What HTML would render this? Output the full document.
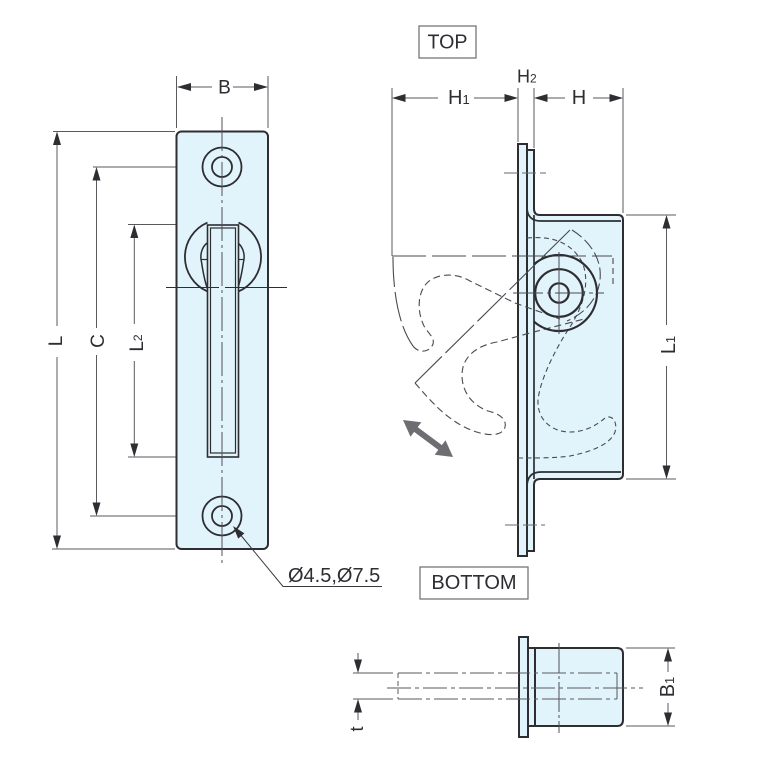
<!DOCTYPE html>
<html><head><meta charset="utf-8"><style>
html,body{margin:0;padding:0;background:#fff;}
svg{display:block;}
text{font-family:"Liberation Sans",Arial,sans-serif;fill:#2d2d32;}
</style></head><body>
<svg width="780" height="771" viewBox="0 0 780 771" xmlns="http://www.w3.org/2000/svg">
<defs>
<clipPath id="bc"><rect x="534.5" y="200" width="90" height="290"/></clipPath>
</defs>

<!-- ===================== LEFT VIEW ===================== -->
<!-- B dimension -->
<g stroke="#5a5a5e" stroke-width="1" fill="none">
<line x1="176.5" y1="76" x2="176.5" y2="128"/>
<line x1="268" y1="76" x2="268" y2="128"/>
<line x1="178" y1="87" x2="212" y2="87"/>
<line x1="233" y1="87" x2="267" y2="87"/>
<!-- L -->
<line x1="53" y1="131.5" x2="175" y2="131.5"/>
<line x1="52" y1="549" x2="175" y2="549"/>
<line x1="57" y1="133" x2="57" y2="326"/>
<line x1="57" y1="357" x2="57" y2="547"/>
<!-- C -->
<line x1="93" y1="167" x2="246" y2="167"/>
<line x1="90" y1="516" x2="245" y2="516"/>
<line x1="96.5" y1="169" x2="96.5" y2="328"/>
<line x1="96.5" y1="355" x2="96.5" y2="514"/>
<!-- L2 -->
<line x1="128" y1="224.5" x2="207" y2="224.5"/>
<line x1="128" y1="457" x2="206" y2="457"/>
<line x1="134.3" y1="227" x2="134.3" y2="324"/>
<line x1="134.3" y1="361" x2="134.3" y2="455"/>
</g>
<g fill="#2d2d32">
<polygon points="177,87 191,83 191,91"/>
<polygon points="268,87 254,83 254,91"/>
<polygon points="57,131.5 53,145 61,145"/>
<polygon points="57,549 53,535.5 61,535.5"/>
<polygon points="96.5,167 92.5,180.5 100.5,180.5"/>
<polygon points="96.5,516 92.5,502.5 100.5,502.5"/>
<polygon points="134.3,224.5 130.3,238 138.3,238"/>
<polygon points="134.3,457 130.3,443.5 138.3,443.5"/>
</g>
<text x="224.5" y="93.5" font-size="19" text-anchor="middle">B</text>
<text transform="translate(55,341) rotate(-90)" font-size="19" text-anchor="middle" dy="7">L</text>
<text transform="translate(97,341) rotate(-90)" font-size="19" text-anchor="middle" dy="7">C</text>
<text transform="translate(136,343) rotate(-90)" font-size="19" text-anchor="middle" dy="7">L<tspan font-size="12" dy="-1">2</tspan></text>

<!-- plate -->
<rect x="176.5" y="131.5" width="91.5" height="417.5" rx="5" fill="#e1f4fb" stroke="#2d2d32" stroke-width="2"/>
<!-- holes -->
<g fill="none" stroke="#2d2d32" stroke-width="1.8">
<circle cx="222" cy="167" r="19.5"/>
<circle cx="222" cy="167" r="10"/>
<circle cx="222" cy="516" r="19.5"/>
<circle cx="222" cy="516" r="10"/>
</g>
<!-- handle circle arcs -->
<g fill="none" stroke="#2d2d32" stroke-width="1.8">
<path d="M207.5,222.6 A37.5,37.5 0 0 0 207.5,291.4"/>
<path d="M238.5,222.6 A37.5,37.5 0 0 1 238.5,291.4"/>
<path d="M207,243 C201,248 200,256 201.5,262 C203,272 205,282 207.5,289" stroke-width="1.5"/>
<path d="M238,243 C244,248 245,256 243.5,262 C242,272 240,282 237.5,289" stroke-width="1.5"/>
<line x1="201" y1="259.5" x2="207" y2="259.5" stroke-width="1.2"/>
<line x1="238" y1="259.5" x2="244" y2="259.5" stroke-width="1.2"/>
</g>
<!-- slot -->
<rect x="207.5" y="225" width="31" height="232" fill="#e1f4fb" stroke="#2d2d32" stroke-width="1.6"/>
<rect x="210.5" y="228" width="25" height="225" fill="none" stroke="#2d2d32" stroke-width="1.2"/>
<!-- centre lines -->
<line x1="222" y1="117" x2="222" y2="566" stroke="#505055" stroke-width="1" stroke-dasharray="34 4 3 4"/>
<line x1="166" y1="287.5" x2="219" y2="287.5" stroke="#2d2d32" stroke-width="1"/>
<line x1="225" y1="287.5" x2="287" y2="287.5" stroke="#2d2d32" stroke-width="1"/>
<!-- leader -->
<polyline points="239,533 283,586.5 382,586.5" fill="none" stroke="#3a3a3e" stroke-width="1"/>
<polygon points="233,526 244.4,533.4 238.2,538.6" fill="#2d2d32"/>
<text x="288" y="582" font-size="20">Ø4.5,Ø7.5</text>

<!-- ===================== RIGHT (SIDE) VIEW ===================== -->
<rect x="419" y="26" width="57" height="32" fill="none" stroke="#77777b" stroke-width="1.3"/>
<text x="447.5" y="48.5" font-size="20" text-anchor="middle" textLength="40" lengthAdjust="spacingAndGlyphs">TOP</text>
<rect x="420" y="567" width="108" height="32" fill="none" stroke="#77777b" stroke-width="1.3"/>
<text x="474" y="589" font-size="20" text-anchor="middle">BOTTOM</text>

<!-- dims -->
<g stroke="#5a5a5e" stroke-width="1" fill="none">
<line x1="392" y1="88" x2="392" y2="256"/>
<line x1="518" y1="88" x2="518" y2="142"/>
<line x1="534" y1="88" x2="534" y2="148"/>
<line x1="623" y1="88" x2="623" y2="213"/>
<line x1="394" y1="98" x2="438" y2="98"/>
<line x1="474" y1="98" x2="516" y2="98"/>
<line x1="536" y1="98" x2="565" y2="98"/>
<line x1="593" y1="98" x2="621" y2="98"/>
<line x1="626" y1="215" x2="676" y2="215"/>
<line x1="626" y1="479" x2="676" y2="479"/>
<line x1="666.5" y1="217" x2="666.5" y2="325"/>
<line x1="666.5" y1="366" x2="666.5" y2="477"/>
</g>
<g fill="#2d2d32">
<polygon points="392,98 405.5,94 405.5,102"/>
<polygon points="518,98 504.5,94 504.5,102"/>
<polygon points="534,98 547.5,94 547.5,102"/>
<polygon points="623,98 609.5,94 609.5,102"/>
<polygon points="666.5,215 662.5,228.5 670.5,228.5"/>
<polygon points="666.5,479 662.5,465.5 670.5,465.5"/>
</g>
<text x="448" y="104" font-size="20">H<tspan font-size="13">1</tspan></text>
<text x="579" y="104" font-size="20" text-anchor="middle">H</text>
<text x="517" y="82.5" font-size="18">H<tspan font-size="12">2</tspan></text>
<text transform="translate(668,345) rotate(-90)" font-size="20" text-anchor="middle" dy="7">L<tspan font-size="13">1</tspan></text>

<!-- bracket -->
<rect x="518" y="144" width="9" height="412" fill="#e1f4fb" stroke="#2d2d32" stroke-width="2"/>
<path d="M527,150 H534 V209 Q534,215 540,215 H618 Q623,215 623,220 V474 Q623,479 618,479 H540 Q534,479 534,485 V551 H527 Z" fill="#e1f4fb" stroke="#2d2d32" stroke-width="2"/>
<g fill="none" stroke="#2d2d32" stroke-width="1.7">
<path d="M527,207 Q527,221 541,221 H621"/>
<path d="M527,487 Q527,472 541,472 H621"/>
<line x1="534" y1="215" x2="534" y2="479"/>
</g>
<!-- mounting hole centre lines -->
<line x1="504" y1="173" x2="546" y2="173" stroke="#6a6a6e" stroke-width="1" stroke-dasharray="14 4"/>
<line x1="505" y1="525" x2="545" y2="525" stroke="#6a6a6e" stroke-width="1" stroke-dasharray="14 4"/>

<!-- latch hidden / phantom lines -->
<g fill="none" stroke="#4a4a50" stroke-width="1.1">
<line x1="392" y1="256" x2="612" y2="256" stroke-dasharray="34 6"/>
<line x1="613" y1="258" x2="613" y2="288" stroke-dasharray="6 4"/>
<path d="M393,257 C393,290 398,325 413,346" stroke-dasharray="30 5"/>
<path d="M413,346 C419,354 430,352 433,344 C435,338 428,333 424,326 C417,312 417,292 428,282 C437,274 455,272 470,281 L515,303 L560,319" stroke-dasharray="7 4"/>
<line x1="570" y1="230" x2="415" y2="383" stroke-dasharray="40 5"/>
<path d="M415,383 C430,400 450,425 480,433 C492,436 503,435 505,427 C507,418 497,413 488,411 C472,405 462,392 462,375 C462,358 475,346 497,342 L530,333 L588,318" stroke-dasharray="7 4"/>
<path d="M527,238 C548,236 570,240 582,262 C590,280 585,305 568,330 C555,350 540,380 538,400 C537,420 552,432 570,432 C585,432 597,425 605,418 C612,414 618,422 615,432 C610,445 590,452 570,456 C555,458 540,458 518,458" stroke-dasharray="5 3.5"/>
<path d="M572,230 C585,238 598,252 600,270 C602,290 592,310 567,321" stroke-dasharray="12 4"/>
</g>
<!-- pin -->
<g fill="none" stroke="#2d2d32" stroke-width="2.2">
<circle cx="559" cy="293" r="38" clip-path="url(#bc)"/>
<circle cx="559" cy="293" r="23.8"/>
<circle cx="559" cy="293" r="9.7"/>
</g>
<line x1="513" y1="293" x2="604" y2="293" stroke="#4a4a50" stroke-width="1" stroke-dasharray="30 4 4 4"/>
<line x1="559" y1="252" x2="559" y2="334" stroke="#4a4a50" stroke-width="1"/>

<!-- double arrow -->
<polygon points="403,420 410.5,436.7 414.1,431.9 438.3,449.9 434.7,454.7 453,457 445.5,440.3 441.9,445.1 417.7,427.1 421.3,422.3" fill="#6d6d72"/>

<!-- ===================== BOTTOM VIEW ===================== -->
<rect x="519" y="637" width="9" height="100" fill="#e1f4fb" stroke="#2d2d32" stroke-width="2"/>
<rect x="528" y="648" width="7" height="78" fill="#e1f4fb" stroke="#2d2d32" stroke-width="2"/>
<path d="M535,648 H617 Q623,648 623,654 V720 Q623,726 617,726 H535 Z" fill="#e1f4fb" stroke="#2d2d32" stroke-width="2"/>
<line x1="559" y1="643" x2="559" y2="733" stroke="#505055" stroke-width="1" stroke-dasharray="30 3 3 3"/>
<g fill="none" stroke="#5a5a5e" stroke-width="1">
<line x1="398" y1="673" x2="617" y2="673" stroke-dasharray="24 4 4 4"/>
<line x1="398" y1="699" x2="617" y2="699" stroke-dasharray="24 4 4 4"/>
<line x1="398" y1="673" x2="398" y2="699" stroke-dasharray="5 3"/>
<line x1="617" y1="673" x2="617" y2="699"/>
<line x1="387" y1="688" x2="643" y2="688" stroke-dasharray="24 4 4 4"/>
<!-- B1 -->
<line x1="626" y1="648" x2="675" y2="648"/>
<line x1="626" y1="726" x2="675" y2="726"/>
<line x1="668" y1="650" x2="668" y2="672"/>
<line x1="668" y1="703" x2="668" y2="724"/>
<!-- t -->
<line x1="353" y1="673" x2="393" y2="673"/>
<line x1="353" y1="699" x2="393" y2="699"/>
<line x1="358" y1="653" x2="358" y2="662"/>
<line x1="358" y1="710" x2="358" y2="720"/>
</g>
<g fill="#2d2d32">
<polygon points="668,648 664,661.5 672,661.5"/>
<polygon points="668,726 664,712.5 672,712.5"/>
<polygon points="358,673 354,659.5 362,659.5"/>
<polygon points="358,699 354,712.5 362,712.5"/>
</g>
<text transform="translate(667,687) rotate(-90)" font-size="20" text-anchor="middle" dy="7">B<tspan font-size="13">1</tspan></text>
<text transform="translate(357,729) rotate(-90)" font-size="18" text-anchor="middle" dy="6">t</text>
</svg>
</body></html>
